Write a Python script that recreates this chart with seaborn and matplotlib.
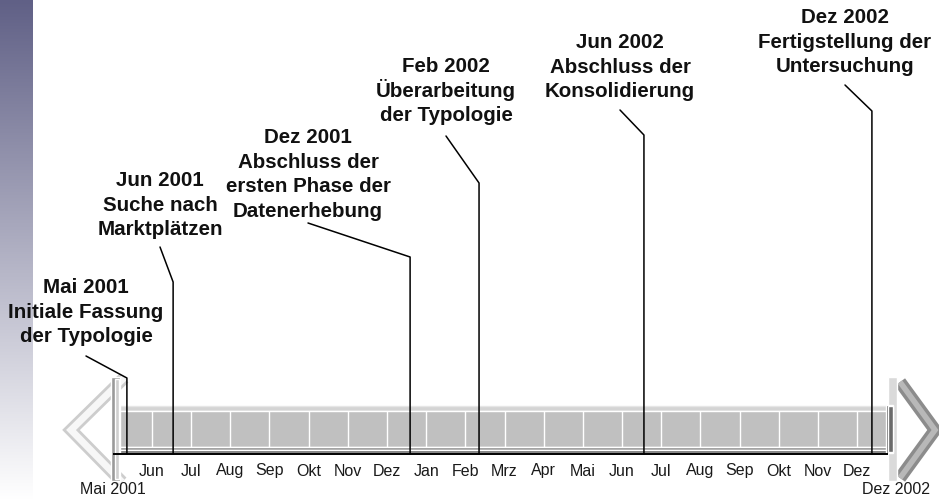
import numpy as np
import seaborn as sns
import matplotlib.pyplot as plt

# month axis: 0 = Mai 2001, 20 = Dez 2002
tick_pos = list(range(1, 20))
tick_labels = ["Jun", "Jul", "Aug", "Sep", "Okt", "Nov", "Dez", "Jan", "Feb", "Mrz",
               "Apr", "Mai", "Jun", "Jul", "Aug", "Sep", "Okt", "Nov", "Dez"]
start_label = "Mai 2001"
end_label = "Dez 2002"
span_end = 20

# milestones (months since Mai 2001)
event_pos = [0.36, 1.54, 7.59, 9.35, 13.56, 19.38]
event_text = [
    "Mai 2001\nInitiale Fassung\nder Typologie",
    "Jun 2001\nSuche nach\nMarktplätzen",
    "Dez 2001\nAbschluss der\nersten Phase der\nDatenerhebung",
    "Feb 2002\nÜberarbeitung\nder Typologie",
    "Jun 2002\nAbschluss der\nKonsolidierung",
    "Dez 2002\nFertigstellung der\nUntersuchung",
]

# layout in pixels: label centre x, first baseline, leader start, knee height
label_px = [86, 160, 308, 446, 620, 845]
label_base = [293, 186, 143, 72, 48, 23]
lead_y = [356, 247, 223, 136, 110, 85]
knee_y = [378, 282, 257, 183, 135, 111]
line_step = 24.6

sns.set_theme(style="white")
plt.rcParams["font.family"] = ["Liberation Sans", "DejaVu Sans"]

W, H = 939, 500
x_origin, month_px = 112.8, 39.17


def px(x):
    return (x - x_origin) / month_px


fig = plt.figure(figsize=(W / 100, H / 100), dpi=100)

# left gradient strip
gax = fig.add_axes([0, 0, 33 / W, 1])
top_c = np.array([96, 96, 134]) / 255
t = np.linspace(0, 1, 256)[:, None]
grad = top_c * (1 - t) + np.array([1.0, 1.0, 1.0]) * t
gax.imshow(grad[:, None, :], aspect="auto", extent=[0, 1, 1, 0])
gax.set_axis_off()

ax = fig.add_axes([0, 0, 1, 1])
ax.set_xlim(px(0), px(W))
ax.set_ylim(H, 0)
ax.set_axis_off()
ax.patch.set_alpha(0)

bar_end = px(893)
# timeline bar
ax.barh(408, bar_end, left=0, height=6, color="#d4d4d4", zorder=2)
ax.barh(429, bar_end, left=0, height=36, color="#c0c0c0", zorder=2)
ax.barh(448.5, bar_end, left=0, height=3, color="#8e8e8e", zorder=2)
ax.barh(451.5, bar_end, left=0, height=3, color="#6c6c6c", zorder=2)
ax.hlines(405.5, 0, bar_end, color="#e6e6e6", lw=1, zorder=2)
ax.vlines(tick_pos, 411, 447, color="white", lw=1, zorder=3)
ax.barh(429, px(893) - px(886), left=px(886), height=48, color="#5e5e5e", zorder=3)
ax.hlines(454, 0, px(888), color="black", lw=1.4, zorder=4)

# end caps
ax.barh(429, px(120) - px(111), left=px(111), height=104, color="#9a9a9a", zorder=3)
ax.barh(429, px(119) - px(115), left=px(115), height=100, color="#cfcfcf", zorder=3)
ax.barh(429, px(897) - px(888), left=px(888), height=104, color="#dadada", zorder=2)
ax.barh(429, px(893) - px(888), left=px(888), height=46, color="#6a6a6a", zorder=3)

# arrow heads
left_x = [px(124), px(71), px(122)]
right_x = [px(900), px(935), px(900)]
ax.plot(left_x, [378, 430, 482], color="#cdcdcd", lw=9,
        solid_joinstyle="miter", solid_capstyle="butt", zorder=1)
ax.plot(left_x, [378, 430, 482], color="#f7f7f7", lw=5,
        solid_joinstyle="miter", solid_capstyle="butt", zorder=1)
ax.plot(right_x, [382, 430, 478], color="#8c8c8c", lw=9,
        solid_joinstyle="miter", solid_capstyle="butt", zorder=1)
ax.plot(right_x, [382, 430, 478], color="#b8b8b8", lw=4,
        solid_joinstyle="miter", solid_capstyle="butt", zorder=1)

# month labels
for pos, lab in zip(tick_pos, tick_labels):
    ax.text(pos, 471, lab, ha="center", va="center", fontsize=11.5, color="#1a1a1a")
ax.text(0, 489, start_label, ha="center", va="center", fontsize=11.5, color="#1a1a1a")
ax.text(span_end, 489, end_label, ha="center", va="center", fontsize=11.5, color="#1a1a1a")

# milestones
for ev, txt, lx, by, sy, ky in zip(event_pos, event_text, label_px, label_base,
                                    lead_y, knee_y):
    ax.plot([px(lx), ev, ev], [sy, ky, 454], color="black", lw=1.1, zorder=5)
    for i, line in enumerate(txt.split("\n")):
        ax.text(px(lx), by + i * line_step, line, ha="center", va="baseline",
                fontsize=14.8, fontweight="bold", color="#111111")

fig.savefig("out.png", dpi=100)
